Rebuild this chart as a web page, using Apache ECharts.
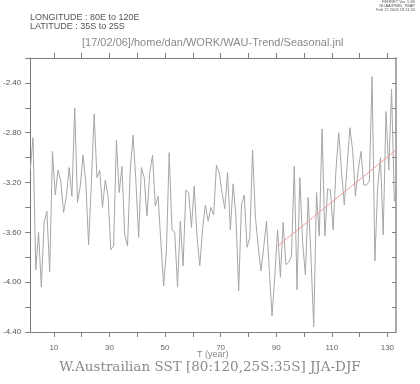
<!DOCTYPE html>
<html>
<head>
<meta charset="utf-8">
<script src="https://cdn.jsdelivr.net/npm/echarts@6/dist/echarts.min.js"></script>
<style>
  html, body { margin: 0; padding: 0; background: #fff; }
  #chart { width: 420px; height: 384px; }
</style>
</head>
<body>
<div id="chart"></div>
<script>
// seasonal SST difference, one value per year, first year at T = 1.5
const firstT = 1.5
const sstVals = [
  -3.10, -2.84, -3.90, -3.60, -4.04, -3.52, -3.43, -3.92, -2.95, -3.30,
  -3.10, -3.19, -3.44, -3.31, -3.08, -3.31, -2.60, -3.36, -3.23, -2.98,
  -3.20, -3.70, -3.20, -2.65, -3.16, -3.10, -3.40, -3.18, -3.31, -3.74,
  -3.71, -2.86, -3.28, -3.07, -3.62, -3.71, -3.10, -2.82, -3.18, -3.64,
  -3.08, -3.16, -3.47, -3.12, -2.98, -3.39, -3.31, -3.68, -4.03, -3.74,
  -2.96, -3.58, -3.60, -4.04, -3.51, -3.87, -3.26, -3.28, -3.56, -3.23,
  -3.63, -3.87, -3.58, -3.38, -3.51, -3.40, -3.46, -3.06, -3.12, -3.28,
  -3.41, -3.12, -3.58, -3.21, -3.47, -4.07, -3.38, -3.30, -3.72, -3.64,
  -2.94, -3.47, -3.71, -3.91, -3.72, -3.51, -3.90, -4.27, -3.95, -3.58,
  -3.96, -3.52, -3.86, -3.84, -3.79, -3.07, -4.06, -3.16, -3.68, -3.94,
  -3.32, -3.79, -4.36, -3.28, -3.63, -2.77, -3.63, -3.25, -3.26, -3.58,
  -3.10, -2.80, -3.11, -3.38, -3.07, -2.76, -2.94, -3.31, -3.10, -2.95,
  -3.22, -3.22, -3.19, -2.35, -3.83, -3.24, -3.00, -3.62, -2.63, -3.10,
  -2.45, -3.35, -3.25
]
// linear trend over the last part of the record
const trendT = [90.5, 133.1]
const trendV = [-3.71, -2.94]

const xTicks = [10, 20, 30, 40, 50, 60, 70, 80, 90, 100, 110, 120, 130]
const xLabels = [10, 30, 50, 70, 90, 110, 130]
const yLabels = [-4.4, -4.0, -3.6, -3.2, -2.8, -2.4]

const sstData = sstVals.map((v, i) => [firstT + i, v])
const trendData = trendT.map((t, i) => [t, trendV[i]])

const chart = echarts.init(document.getElementById('chart'), null, { renderer: 'canvas' })

const xMin = 1.5
const xMax = 133.1
const axisGrey = '#808080'

chart.setOption({
  animation: false,
  backgroundColor: '#fff',
  grid: { left: 30, right: 24, top: 58, bottom: 52 },
  graphic: [
    { type: 'text', left: 30, top: 13, style: { text: 'LONGITUDE : 80E to 120E', font: '9px "Liberation Sans"', fill: '#555' } },
    { type: 'text', left: 30, top: 22, style: { text: 'LATITUDE : 35S to 25S', font: '9px "Liberation Sans"', fill: '#555' } },
    { type: 'text', left: 82, top: 37, style: { text: '[17/02/06]/home/dan/WORK/WAU-Trend/Seasonal.jnl', font: '11px "Liberation Sans"', fill: '#8a8a8a' } },
    { type: 'text', right: 5, top: 0, style: { text: 'FERRET Ver. 5.80', font: '4px "Liberation Sans"', fill: '#555', align: 'right' } },
    { type: 'text', right: 5, top: 4, style: { text: 'NOAA/PMEL TMAP', font: '4px "Liberation Sans"', fill: '#555', align: 'right' } },
    { type: 'text', right: 5, top: 8, style: { text: 'Feb 17 2006 18:11:34', font: '4px "Liberation Sans"', fill: '#555', align: 'right' } },
    { type: 'text', left: 197, top: 350, style: { text: 'T (year)', font: '9px "Liberation Sans"', fill: '#888' } },
    { type: 'text', left: 'center', top: 360, style: { text: 'W.Austrailian SST [80:120,25S:35S] JJA-DJF', font: '13.5px "DejaVu Serif"', fill: '#8a8a8a' } }
  ],
  xAxis: [
    {
      type: 'value', position: 'bottom', min: xMin, max: xMax,
      splitLine: { show: false },
      axisLine: { lineStyle: { color: axisGrey, width: 1 } },
      axisTick: { length: 5, customValues: xTicks, lineStyle: { color: axisGrey } },
      axisLabel: { customValues: xLabels, margin: 12, fontSize: 8, color: '#666', fontFamily: 'Liberation Sans' }
    },
    {
      type: 'value', position: 'top', min: xMin, max: xMax,
      splitLine: { show: false },
      axisLine: { lineStyle: { color: axisGrey, width: 1 } },
      axisTick: { length: 5, customValues: xTicks, lineStyle: { color: axisGrey } },
      axisLabel: { show: false }
    }
  ],
  yAxis: [
    {
      type: 'value', position: 'left', min: -4.4, max: -2.2, interval: 0.2,
      splitLine: { show: false },
      axisLine: { show: true, lineStyle: { color: '#777', width: 1 } },
      axisTick: { show: true, length: 5, lineStyle: { color: axisGrey } },
      axisLabel: {
        customValues: yLabels, margin: 9, fontSize: 8, color: '#555', fontFamily: 'Liberation Sans',
        formatter: v => v.toFixed(2)
      }
    },
    {
      type: 'value', position: 'right', min: -4.4, max: -2.2, interval: 0.2,
      splitLine: { show: false },
      axisLine: { show: true, lineStyle: { color: '#aaa', width: 2 } },
      axisTick: { show: true, inside: true, length: 4, lineStyle: { color: axisGrey } },
      axisLabel: { show: false }
    }
  ],
  series: [
    {
      name: 'SST', type: 'line', xAxisIndex: 0, yAxisIndex: 0,
      data: sstData, showSymbol: false, clip: true,
      lineStyle: { color: '#a6a6a6', width: 1 }
    },
    {
      name: 'trend', type: 'line', xAxisIndex: 0, yAxisIndex: 0,
      data: trendData, showSymbol: false,
      lineStyle: { color: '#f29a9a', width: 1 }
    }
  ]
})
</script>
</body>
</html>
